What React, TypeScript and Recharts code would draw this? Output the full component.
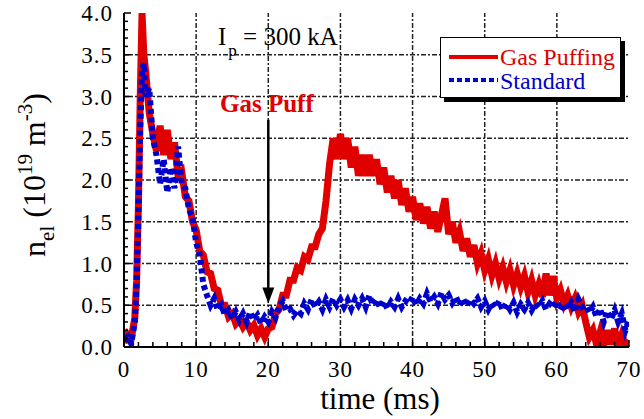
import React from "react";
import { LineChart, Line, XAxis, YAxis, ReferenceLine, ReferenceDot } from "recharts";

const times = [
  0, 0.5, 1, 1.5, 1.75, 2, 2.25, 2.5, 2.75, 3, 3.5, 4, 4.5, 5, 5.5, 6, 6.5, 7, 7.5, 8, 8.5, 9, 9.5,
  10, 10.5, 11, 11.5, 12, 12.5, 13, 13.5, 14, 14.5, 15, 15.5, 16, 16.5, 17, 17.5, 18, 18.5, 19, 19.5,
  20, 20.5, 21, 21.5, 22, 22.5, 23, 23.5, 24, 24.5, 25, 25.5, 26, 26.5, 27, 27.5, 28, 28.5, 29, 29.5,
  30, 30.5, 31, 31.5, 32, 32.5, 33, 33.5, 34, 34.5, 35, 35.5, 36, 36.5, 37, 37.5, 38, 38.5, 39, 39.5,
  40, 40.5, 41, 41.5, 42, 42.5, 43, 43.5, 44, 44.5, 45, 45.5, 46, 46.5, 47, 47.5, 48, 48.5, 49, 49.5,
  50, 50.5, 51, 51.5, 52, 52.5, 53, 53.5, 54, 54.5, 55, 55.5, 56, 56.5, 57, 57.5, 58, 58.5, 59, 59.5,
  60, 60.5, 61, 61.5, 62, 62.5, 63, 63.5, 64, 64.5, 65, 65.5, 66, 66.5, 67, 67.5, 68, 68.5, 69, 69.5,
  70,
];

const gasPuffing = [
  0.05, 0.15, 0.1, 0.35, 0.8, 1.7, 3.0, 4.0, 3.5, 3.3, 2.8, 2.55, 2.35, 2.65, 2.3, 2.6, 2.25, 2.45, 2.05, 2.1, 1.8, 1.75, 1.5,
  1.4, 1.15, 1.1, 0.9, 0.88, 0.7, 0.68, 0.5, 0.5, 0.36, 0.4, 0.28, 0.33, 0.24, 0.3, 0.2, 0.26, 0.14, 0.22, 0.12,
  0.22, 0.24, 0.4, 0.45, 0.62, 0.62, 0.8, 0.8, 0.95, 0.92, 1.08, 1.05, 1.2, 1.2, 1.35, 1.42, 1.75, 2.2, 2.5, 2.25,
  2.55, 2.25, 2.5, 2.15, 2.4, 2.05, 2.3, 2.05, 2.3, 2.05, 2.25, 1.95, 2.15, 1.85, 2.05, 1.78, 2.0, 1.7, 1.9, 1.62,
  1.8, 1.52, 1.72, 1.48, 1.68, 1.42, 1.62, 1.38, 1.58, 1.78, 1.35, 1.5, 1.25, 1.38, 1.15, 1.3, 1.08, 1.22, 1.0, 1.12,
  0.92, 1.05, 0.86, 1.0, 0.82, 0.95, 0.78, 0.92, 0.74, 0.88, 0.72, 0.85, 0.66, 0.8, 0.62, 0.75, 0.6, 0.88, 0.62, 0.85,
  0.58, 0.68, 0.52, 0.62, 0.48, 0.58, 0.42, 0.5, 0.3, 0.12, 0.2, 0.03, 0.18, 0.02, 0.2, 0.03, 0.22, 0.02, 0.15, 0.02,
  0.08,
];

const standard = [
  0.08, 0.12, 0.04, 0.3, 0.75, 1.6, 2.6, 3.3, 3.4, 3.0, 3.1, 2.5, 2.3, 1.95, 2.25, 1.85, 2.15, 1.9, 2.4, 1.95, 1.9, 1.65, 1.55,
  1.25, 1.1, 0.75, 0.62, 0.5, 0.58, 0.44, 0.5, 0.38, 0.44, 0.34, 0.42, 0.32, 0.4, 0.3, 0.42, 0.32, 0.38, 0.28, 0.36,
  0.3, 0.42, 0.35, 0.48, 0.55, 0.44, 0.46, 0.38, 0.44, 0.4, 0.52, 0.45, 0.57, 0.48, 0.54, 0.45, 0.57, 0.48, 0.58, 0.5,
  0.57, 0.48, 0.56, 0.46, 0.57, 0.5, 0.58, 0.48, 0.62, 0.5, 0.57, 0.47, 0.55, 0.46, 0.54, 0.48, 0.58, 0.48, 0.55, 0.52,
  0.6, 0.5, 0.58, 0.52, 0.64, 0.54, 0.6, 0.52, 0.65, 0.57, 0.62, 0.53, 0.6, 0.5, 0.58, 0.49, 0.57, 0.52, 0.58, 0.48,
  0.55, 0.45, 0.53, 0.47, 0.55, 0.44, 0.52, 0.45, 0.53, 0.42, 0.51, 0.45, 0.53, 0.44, 0.52, 0.47, 0.55, 0.45, 0.52, 0.48,
  0.55, 0.44, 0.52, 0.45, 0.53, 0.42, 0.57, 0.48, 0.5, 0.41, 0.48, 0.36, 0.46, 0.3, 0.43, 0.33, 0.44, 0.3, 0.4, 0.2,
  0.33,
];

const xTicks = [0, 2, 4, 6, 8, 10, 12, 14, 16, 18, 20, 22, 24, 26, 28, 30, 32, 34, 36, 38, 40, 42, 44, 46, 48, 50, 52, 54, 56, 58, 60, 62, 64, 66, 68, 70];
const xMajor = [10, 20, 30, 40, 50, 60];
const yTicks = [
  0, 0.1, 0.2, 0.3, 0.4, 0.5, 0.6, 0.7, 0.8, 0.9, 1.0, 1.1, 1.2, 1.3, 1.4, 1.5, 1.6, 1.7, 1.8, 1.9, 2.0,
  2.1, 2.2, 2.3, 2.4, 2.5, 2.6, 2.7, 2.8, 2.9, 3.0, 3.1, 3.2, 3.3, 3.4, 3.5, 3.6, 3.7, 3.8, 3.9, 4.0,
];
const yMajor = [0.5, 1.0, 1.5, 2.0, 2.5, 3.0, 3.5];

const data = times.map((t, i) => ({ t, gas: gasPuffing[i], std: standard[i] }));

const RED = "#e00000";
const BLUE = "#0000cc";
const FONT = "Liberation Serif";

const isMajorX = (v: number) => Math.abs(v % 10) < 1e-6;
const isMajorY = (v: number) => Math.abs(v * 2 - Math.round(v * 2)) < 1e-6;

const gridProps = { stroke: "#222", strokeWidth: 1.5, strokeDasharray: "5 2 2 2" };

const BottomTick = (p: any) => {
  const { x, y, payload } = p;
  const v = payload.value;
  const major = isMajorX(v);
  return (
    <g>
      <line x1={x} y1={y} x2={x} y2={y - (major ? 7 : 5)} stroke="#000" strokeWidth={1.5} />
      {major && (
        <text x={x} y={y + 30} textAnchor="middle" fontSize={23} fontFamily={FONT} fill="#000" letterSpacing={1}>
          {v}
        </text>
      )}
    </g>
  );
};

const TopTick = (p: any) => {
  const { x, y, payload } = p;
  const major = isMajorX(payload.value);
  return <line x1={x} y1={y} x2={x} y2={y + (major ? 7 : 5)} stroke="#000" strokeWidth={1.5} />;
};

const LeftTick = (p: any) => {
  const { x, y, payload } = p;
  const v = payload.value;
  const major = isMajorY(v);
  return (
    <g>
      <line x1={x} y1={y} x2={x + (major ? 7 : 4)} y2={y} stroke="#000" strokeWidth={1.5} />
      {major && (
        <text x={x - 11} y={y + 8} textAnchor="end" fontSize={23} fontFamily={FONT} fill="#000" letterSpacing={1}>
          {v.toFixed(1)}
        </text>
      )}
    </g>
  );
};

const RightTick = (p: any) => {
  const { x, y, payload } = p;
  const major = isMajorY(payload.value);
  return <line x1={x} y1={y} x2={x - (major ? 7 : 4)} y2={y} stroke="#000" strokeWidth={1.5} />;
};

const ArrowHead = (props: any) => {
  const { cx, cy } = props;
  if (cx == null || cy == null) return null;
  return <polygon points={`${cx},${cy} ${cx - 6},${cy - 16} ${cx + 6},${cy - 16}`} fill="#000" />;
};

const axisLine = { stroke: "#000", strokeWidth: 2 };

export default function App() {
  return (
    <div style={{ position: "absolute", left: 0, top: 0, width: 644, height: 419, background: "#fff", fontFamily: FONT }}>
      <LineChart width={644} height={419} data={data} margin={{ top: 13, right: 15, bottom: 32, left: 64 }}>
        <XAxis
          dataKey="t"
          type="number"
          domain={[0, 70]}
          ticks={xTicks}
          interval={0}
          allowDataOverflow
          height={40}
          tickSize={0}
          tickMargin={0}
          tick={BottomTick}
          tickLine={false}
          axisLine={axisLine}
        />
        <XAxis
          xAxisId="top"
          orientation="top"
          mirror
          type="number"
          domain={[0, 70]}
          ticks={xTicks}
          interval={0}
          height={0}
          tickSize={0}
          tickMargin={0}
          tick={TopTick}
          tickLine={false}
          axisLine={axisLine}
        />
        <YAxis
          type="number"
          domain={[0, 4]}
          ticks={yTicks}
          interval={0}
          allowDataOverflow
          width={60}
          tickSize={0}
          tickMargin={0}
          tick={LeftTick}
          tickLine={false}
          axisLine={axisLine}
        />
        <YAxis
          yAxisId="right"
          orientation="right"
          mirror
          type="number"
          domain={[0, 4]}
          ticks={yTicks}
          interval={0}
          width={0}
          tickSize={0}
          tickMargin={0}
          tick={RightTick}
          tickLine={false}
          axisLine={axisLine}
        />
        {xMajor.map((v) => (
          <ReferenceLine key={"gx" + v} x={v} {...gridProps} />
        ))}
        {yMajor.map((v) => (
          <ReferenceLine key={"gy" + v} y={v} {...gridProps} />
        ))}
        <Line
          dataKey="gas"
          name="Gas Puffing"
          type="linear"
          stroke={RED}
          strokeWidth={7}
          dot={false}
          isAnimationActive={false}
        />
        <Line
          dataKey="std"
          name="Standard"
          type="linear"
          stroke={BLUE}
          strokeWidth={6}
          strokeDasharray="5 3.5"
          dot={false}
          isAnimationActive={false}
        />
        <ReferenceLine
          segment={[
            { x: 20, y: 2.72 },
            { x: 20, y: 0.65 },
          ]}
          stroke="#000"
          strokeWidth={2.5}
        />
        <ReferenceDot x={20} y={0.52} r={6} shape={ArrowHead} />
      </LineChart>

      <svg
        width={644}
        height={419}
        style={{ position: "absolute", left: 0, top: 0, pointerEvents: "none" }}
        fontFamily={FONT}
      >
        <text transform="translate(45,175) rotate(-90)" textAnchor="middle" fontSize={32} fill="#000">
          <tspan>n</tspan>
          <tspan fontSize={21} dy={9}>el</tspan>
          <tspan dy={-9}> (10</tspan>
          <tspan fontSize={21} dy={-13}>19</tspan>
          <tspan dy={13}> m</tspan>
          <tspan fontSize={21} dy={-13}>-3</tspan>
          <tspan dy={13}>)</tspan>
        </text>
        <text x={380} y={409} textAnchor="middle" fontSize={31} fill="#000">
          time (ms)
        </text>
        <text x={218} y={45} fontSize={25} fill="#000">
          <tspan>I</tspan>
          <tspan fontSize={17} dx={2} dy={11}>p</tspan>
          <tspan dy={-11}> = 300 kA</tspan>
        </text>
        <text x={220} y={112} fontSize={25} fontWeight="bold" fill={RED}>
          Gas Puff
        </text>
      </svg>

      <div
        style={{
          position: "absolute",
          left: 440,
          top: 37,
          width: 179,
          height: 59,
          border: "1.5px solid #000",
          boxShadow: "4px 4px 0 #000",
          background: "#fff",
        }}
      >
        <svg width={179} height={59} style={{ display: "block" }} fontFamily={FONT}>
          <line x1={8} y1={19} x2={57} y2={19} stroke={RED} strokeWidth={4} />
          <text x={59} y={27} fontSize={24} fill={RED}>
            Gas Puffing
          </text>
          <line x1={8} y1={42} x2={57} y2={42} stroke={BLUE} strokeWidth={4} strokeDasharray="5 3" />
          <text x={59} y={51} fontSize={24} fill={BLUE}>
            Standard
          </text>
        </svg>
      </div>
    </div>
  );
}
